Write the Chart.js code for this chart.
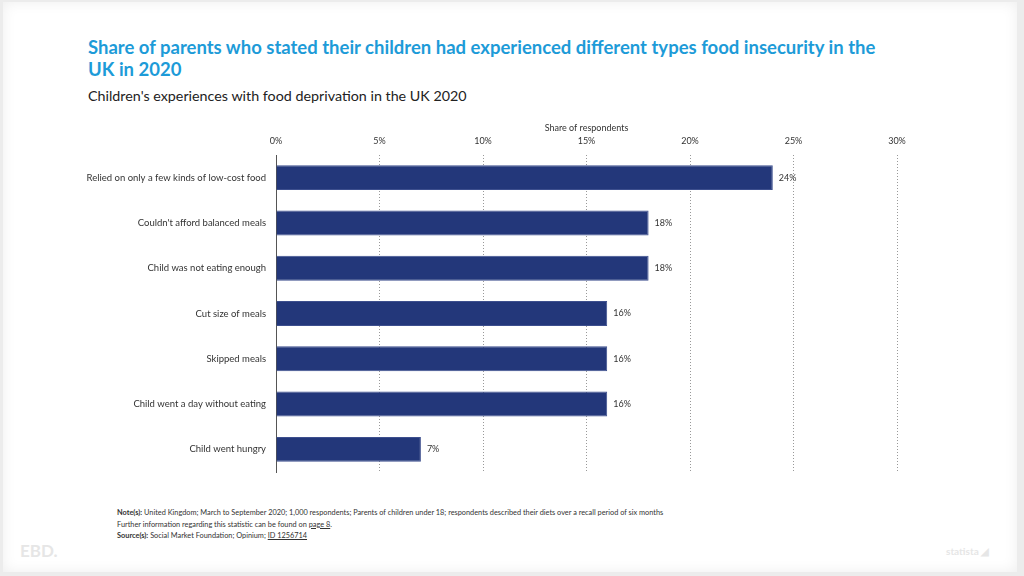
<!DOCTYPE html>
<html>
<head>
<meta charset="utf-8">
<script src="https://cdn.jsdelivr.net/npm/chart.js@4.4.1/dist/chart.umd.min.js"></script>
<style>
  body { margin: 0; background: #ececec; font-family: "Lato", sans-serif; }
  #slide { position: absolute; left: 3px; top: 2px; width: 1014px; height: 570px; background: #fff;
           box-shadow: inset 0 0 14px rgba(0,0,0,0.07); overflow: hidden; }
  #title { position: absolute; left: 85px; top: 34px; width: 800px; color: #1d9bd8; font-weight: bold;
           font-size: 18.5px; line-height: 22px; }
  #subtitle { position: absolute; left: 85px; top: 85px; color: #222; font-size: 14.3px; }
  #wrap { position: absolute; left: -3px; top: -2px; width: 1024px; height: 576px; }
  #notes { position: absolute; left: 114px; top: 505px; font-size: 7.35px; line-height: 11.5px; color: #333; }
  #notes b { font-weight: bold; }
  #notes u { text-decoration: underline; }
  .logo { position: absolute; color: #e6e6e6; font-weight: bold; }
</style>
</head>
<body>
<div id="slide">
  <div id="title">Share of parents who stated their children had experienced different types food insecurity in the UK in 2020</div>
  <div id="subtitle">Children's experiences with food deprivation in the UK 2020</div>
  <div id="notes">
    <div><b>Note(s):</b> United Kingdom; March to September 2020; 1,000 respondents; Parents of children under 18; respondents described their diets over a recall period of six months</div>
    <div>Further information regarding this statistic can be found on <u>page 8</u>.</div>
    <div><b>Source(s):</b> Social Market Foundation; Opinium; <u>ID 1256714</u></div>
  </div>
  <div class="logo" style="left:17px; top:538px; font-size:17px;">EBD.</div>
  <div class="logo" style="left:943px; top:543px; font-size:10px;">statista &#9698;</div>
  <div id="wrap"><canvas id="myChart" width="1024" height="576"></canvas></div>
</div>
<script>
var categories = [
  "Relied on only a few kinds of low-cost food",
  "Couldn't afford balanced meals",
  "Child was not eating enough",
  "Cut size of meals",
  "Skipped meals",
  "Child went a day without eating",
  "Child went hungry"
];
var values = [24, 18, 18, 16, 16, 16, 7];
var axisTitle = "Share of respondents";

var valueLabels = {
  id: 'valueLabels',
  afterDatasetsDraw: function(chart) {
    var ctx = chart.ctx;
    var meta = chart.getDatasetMeta(0);
    ctx.save();
    ctx.font = '9px Lato';
    ctx.fillStyle = '#333';
    ctx.textBaseline = 'middle';
    meta.data.forEach(function(bar, i) {
      ctx.fillText(values[i] + '%', bar.x + 6, bar.y);
    });
    ctx.restore();
  }
};

var ctx = document.getElementById("myChart").getContext('2d');
var myChart = new Chart(ctx, {
  type: 'bar',
  data: {
    labels: categories,
    datasets: [{
      data: values,
      backgroundColor: '#23377a',
      borderColor: '#3d4f8e',
      borderWidth: 1,
      barPercentage: 0.55,
      categoryPercentage: 1
    }]
  },
  options: {
    indexAxis: 'y',
    responsive: false,
    animation: false,
    layout: { padding: { left: 0, right: 127, top: 118, bottom: 104 } },
    plugins: { legend: { display: false }, tooltip: { enabled: false } },
    scales: {
      x: {
        position: 'top',
        min: 0, max: 30,
        afterFit: function(s) { s.height = 37; },
        ticks: { stepSize: 5, padding: 9, color: '#333', font: { family: 'Lato', size: 9 },
                 callback: function(v) { return v + '%'; } },
        title: { display: true, text: axisTitle, color: '#333', padding: { top: 5, bottom: 0 },
                 font: { family: 'Lato', size: 9 } },
        grid: { color: '#999', drawTicks: false, lineWidth: 1 },
        border: { display: false, dash: [1, 2] }
      },
      y: {
        afterFit: function(s) { s.width = 276; },
        ticks: { padding: 10, color: '#333', font: { family: 'Lato', size: 9.5 } },
        grid: { display: false, drawTicks: false },
        border: { display: true, color: '#555', width: 1 }
      }
    }
  },
  plugins: [valueLabels]
});
</script>
</body>
</html>
